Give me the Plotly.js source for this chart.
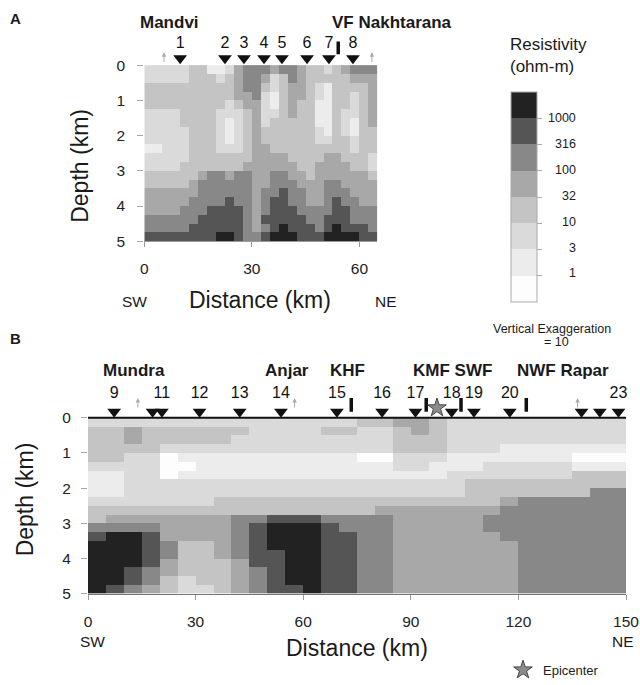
<!DOCTYPE html>
<html><head><meta charset="utf-8">
<script src="https://cdn.plot.ly/plotly-3.0.1.min.js"></script>
<style>html,body{margin:0;padding:0;background:#fff}</style>
</head><body><div id="chart" style="width:640px;height:685px"></div>
<script>
// ---------- DATA ----------
// resistivity classes 1..8, boundaries (ohm-m)
const resistivityTicks = ['1','3','10','32','100','316','1000'];
const classGrays = ['#fdfdfd','#ececec','#dadada','#c4c4c4','#a8a8a8','#888888','#555555','#222222'];

// Profile A (Mandvi - Nakhtarana), cells 2.5 km x 0.25 km, rows from surface down
const stationLabelsA = ['1','2','3','4','5','6','7','8'];
const stationKmA = [10, 22.5, 27.8, 33.4, 38.4, 45.4, 51.5, 58.2];
const faultKmA = [54.1];
const arrowKmA = [5.5, 63.5];
const resistivityA = [
 [3,3,3,3,3,4,4,2,2,3,5,6,6,6,5,6,6,5,4,4,3,4,5,6,6,6],
 [3,3,3,3,3,4,4,4,3,4,5,6,6,5,3,4,6,5,4,4,4,4,4,5,5,5],
 [4,4,4,4,4,4,4,4,4,4,5,6,6,4,3,4,5,5,4,3,2,4,4,4,4,5],
 [4,4,4,4,4,4,4,4,4,4,5,5,6,3,2,4,5,5,4,3,2,4,4,3,4,5],
 [4,4,4,4,4,4,4,4,4,3,4,5,5,3,2,4,5,4,4,2,2,4,4,3,4,5],
 [3,3,3,3,4,4,4,4,3,3,3,4,5,3,3,4,5,4,4,2,2,4,3,3,4,5],
 [3,3,3,3,4,4,4,4,3,2,3,4,5,3,4,4,4,4,4,2,2,4,3,2,4,5],
 [3,3,3,3,3,4,4,4,3,2,3,4,5,4,4,4,4,4,4,3,2,4,3,2,4,4],
 [3,3,3,3,3,4,4,4,3,2,3,4,5,4,4,4,4,4,4,3,3,4,4,3,4,4],
 [2,2,3,3,3,4,4,4,3,3,3,4,5,5,4,4,4,4,4,4,4,4,4,3,4,4],
 [3,3,3,3,3,4,4,4,4,4,4,4,5,5,5,5,4,4,4,4,5,5,4,4,4,3],
 [3,3,3,3,4,4,4,4,4,4,4,5,5,5,5,5,5,4,4,5,5,5,5,4,4,3],
 [4,4,4,4,4,4,5,6,6,5,6,6,5,5,6,6,5,5,4,5,5,5,5,5,5,4],
 [4,4,4,4,4,5,6,6,6,6,6,6,5,5,6,6,6,5,5,5,6,6,5,5,5,5],
 [5,5,5,5,5,5,6,6,6,6,6,6,5,6,6,7,6,6,5,5,6,6,6,5,5,5],
 [5,5,5,5,5,6,6,6,6,7,6,6,5,6,7,7,6,6,5,5,6,7,6,6,5,5],
 [5,5,5,5,6,6,6,7,7,7,7,6,5,6,7,7,7,6,6,6,6,7,7,6,6,6],
 [6,6,6,6,6,6,7,7,7,7,7,6,5,7,7,7,7,7,6,6,7,7,7,6,6,6],
 [6,6,6,6,6,7,7,7,7,7,7,6,5,6,7,8,7,7,7,6,7,8,7,7,7,6],
 [7,7,7,7,7,7,7,7,8,8,7,6,6,7,8,8,8,7,7,7,8,8,8,8,7,7]
];

// Profile B (Mundra - Rapar), cells 5 km x 0.25 km
const stationLabelsB = ['9','','11','12','13','14','15','16','17','18','19','20','','','23'];
const stationKmB = [7.3, 18.0, 20.6, 31.1, 42.3, 53.8, 69.4, 82.0, 91.3, 101.4, 107.6, 117.6, 137.6, 142.7, 147.9];
const faultNamesB = ['KHF','KMF','SWF','NWF'];
const faultKmB = [73.4, 94.3, 104.0, 122.2];
const arrowKmB = [13.9, 57.6, 136.5];
const epicenterKm = [97.3];
const resistivityB = [
 [3,3,3,3,3,3,3,3,3,3,3,3,3,3,3,4,4,5,5,4,3,3,3,3,3,3,3,3,3,3],
 [4,4,5,4,4,4,4,4,4,3,3,3,3,4,4,3,3,4,5,4,3,3,3,3,3,3,3,3,3,3],
 [4,4,5,4,4,4,4,4,3,3,3,3,3,3,3,3,3,4,4,4,3,3,3,3,3,3,3,3,3,3],
 [4,4,4,4,3,3,3,3,3,3,3,3,3,3,3,3,3,4,4,4,3,3,3,2,2,2,2,2,2,2],
 [4,4,3,3,1,2,2,2,2,2,2,2,2,2,2,1,1,3,3,3,2,2,2,2,2,2,2,1,1,1],
 [3,3,3,3,1,1,2,2,2,2,2,2,2,2,2,2,2,3,3,2,2,2,3,3,3,3,3,2,2,2],
 [2,2,3,3,1,2,2,2,2,2,2,2,2,2,2,2,2,2,2,2,3,3,3,3,3,3,3,4,4,4],
 [2,2,3,3,3,3,3,3,3,3,3,3,3,3,3,3,3,3,3,3,3,4,4,4,4,4,4,4,4,4],
 [2,2,3,3,3,3,3,3,3,3,3,3,3,3,3,3,3,3,3,3,3,4,4,4,4,4,4,4,6,6],
 [3,3,3,3,3,3,3,4,4,4,4,4,4,4,4,4,4,4,4,4,4,4,4,5,6,6,6,6,6,6],
 [4,4,4,4,4,4,4,4,4,4,4,4,4,4,4,4,5,5,5,5,5,5,5,6,6,6,6,6,6,6],
 [4,5,5,5,5,5,5,5,6,6,7,7,7,6,6,6,6,5,5,5,5,5,6,6,6,6,6,6,6,6],
 [6,6,6,6,5,5,5,5,6,7,8,8,8,7,6,6,6,5,5,5,5,5,6,6,6,6,6,6,6,6],
 [7,8,8,7,5,5,5,5,6,7,8,8,8,7,7,6,6,5,5,5,5,5,5,6,6,6,6,6,6,6],
 [8,8,8,7,6,4,4,5,6,7,8,8,8,7,7,6,6,5,5,5,5,5,5,5,6,6,6,6,6,6],
 [8,8,8,7,6,4,4,5,6,7,7,8,8,7,7,6,6,5,5,5,5,5,5,5,6,6,6,6,6,6],
 [8,8,8,7,5,4,4,4,5,7,7,8,8,7,7,6,6,5,5,5,5,5,5,5,6,6,6,6,6,6],
 [8,8,7,6,5,4,4,4,5,6,7,8,8,7,7,6,6,5,5,5,5,5,5,5,6,6,6,6,6,6],
 [8,8,7,6,4,3,4,4,5,6,7,8,8,7,7,6,6,5,5,5,5,5,5,5,6,6,6,6,6,6],
 [8,7,6,5,4,3,3,4,5,6,7,7,8,7,7,6,6,5,5,5,5,5,5,5,6,6,6,6,6,6]
];

// ---------- LAYOUT HELPERS ----------
const W = 640, H = 685;
const px = x => x / W;
const py = y => 1 - y / H;
const FONT = 'Arial, "Liberation Sans", sans-serif';

// panel geometry (pixels)
const A = {left:144.3, right:377.3, top0:66, bottom:244.5, topPx:8, km:65};
const B = {left:88, right:626, top0:423.3, bottom:601.5, topPx:355, km:150};
function depthPerPx(p){ return 5 / (p.bottom - p.top0); }
A.ytop = -(A.top0 - A.topPx) * depthPerPx(A);
B.ytop = -(B.top0 - B.topPx) * depthPerPx(B);
const dA = p => -p * depthPerPx(A);   // pixels above surface -> depth
const dB = p => -p * depthPerPx(B);

// discrete colorscale
const nCls = classGrays.length;
const cscale = [];
classGrays.forEach((c, i) => { cscale.push([i / nCls, c]); cscale.push([(i + 1) / nCls, c]); });

const cb = {left:510.7, top:93.3, len:210, thick:26};

const traces = [];
traces.push({
  type:'heatmap', z:resistivityA, x0:1.25, dx:2.5, y0:0.125, dy:0.25,
  xaxis:'x', yaxis:'y', zmin:0.5, zmax:8.5, colorscale:cscale, zsmooth:false, hoverinfo:'skip',
  colorbar:{x:px(cb.left), xanchor:'left', xpad:0, y:py(cb.top), yanchor:'top', ypad:0,
    lenmode:'pixels', len:cb.len, thickness:cb.thick, outlinecolor:'#aaa', outlinewidth:1,
    tickvals:[1.5,2.5,3.5,4.5,5.5,6.5,7.5], ticktext:resistivityTicks, showticklabels:false,
    ticks:'outside', ticklen:5, tickcolor:'#aaa'}
});
traces.push({
  type:'heatmap', z:resistivityB, x0:2.5, dx:5, y0:0.125, dy:0.25,
  xaxis:'x2', yaxis:'y2', zmin:0.5, zmax:8.5, colorscale:cscale, zsmooth:false, hoverinfo:'skip', showscale:false
});

function faultLines(kms, y1, y2){
  const x = [], y = [];
  kms.forEach(k => { x.push(k, k, null); y.push(y1, y2, null); });
  return {x, y};
}
// Profile A marks
traces.push({type:'scatter', mode:'markers', x:stationKmA, y:stationKmA.map(() => dA(7)), xaxis:'x', yaxis:'y',
  marker:{symbol:'triangle-down', size:12, color:'#111'}, cliponaxis:false, showlegend:false, hoverinfo:'skip'});
traces.push({type:'scatter', mode:'text', x:stationKmA, y:stationKmA.map(() => dA(21)), text:stationLabelsA, xaxis:'x', yaxis:'y',
  textfont:{family:FONT, size:16, color:'#111'}, cliponaxis:false, showlegend:false, hoverinfo:'skip'});
const fA = faultLines(faultKmA, dA(24), dA(11));
traces.push({type:'scatter', mode:'lines', x:fA.x, y:fA.y, xaxis:'x', yaxis:'y', line:{color:'#111', width:3.5},
  cliponaxis:false, showlegend:false, hoverinfo:'skip'});
// Profile B marks
traces.push({type:'scatter', mode:'markers', x:stationKmB, y:stationKmB.map(() => dB(6)), xaxis:'x2', yaxis:'y2',
  marker:{symbol:'triangle-down', size:12, color:'#111'}, cliponaxis:false, showlegend:false, hoverinfo:'skip'});
traces.push({type:'scatter', mode:'text', x:stationKmB, y:stationKmB.map(() => dB(24)), text:stationLabelsB, xaxis:'x2', yaxis:'y2',
  textfont:{family:FONT, size:16, color:'#111'}, cliponaxis:false, showlegend:false, hoverinfo:'skip'});
const fB = faultLines(faultKmB, dB(20), dB(6));
traces.push({type:'scatter', mode:'lines', x:fB.x, y:fB.y, xaxis:'x2', yaxis:'y2', line:{color:'#111', width:3.5},
  cliponaxis:false, showlegend:false, hoverinfo:'skip', text:faultNamesB});
traces.push({type:'scatter', mode:'markers', name:'Epicenter', x:epicenterKm, y:epicenterKm.map(() => dB(10)), xaxis:'x2', yaxis:'y2',
  marker:{symbol:'star', size:14, color:'#8c8c8c', line:{color:'#444', width:1}}, cliponaxis:false, showlegend:true, hoverinfo:'skip'});

// ---------- ANNOTATIONS ----------
const ann = [];
function txt(text, x, y, size, opts){
  ann.push(Object.assign({text, xref:'paper', yref:'paper', x:px(x), y:py(y), xanchor:'center', yanchor:'middle',
    showarrow:false, font:{family:FONT, size, color:'#1a1a1a'}}, opts || {}));
}
txt('<b>A</b>', 15, 19, 15);
txt('<b>B</b>', 15, 343, 15);
txt('<b>Mandvi</b>', 169, 23, 17);
txt('<b>VF Nakhtarana</b>', 392, 23, 17);
txt('<b>Mundra</b>', 134, 375, 17);
txt('<b>Anjar</b>', 287, 375, 17);
txt('<b>KHF</b>', 347, 375, 17);
txt('<b>KMF SWF</b>', 452, 375, 17);
txt('<b>NWF Rapar</b>', 563, 375, 17);
txt('Depth (km)', 80, 168, 23, {textangle:-90});
txt('Distance (km)', 260, 304, 23);
txt('SW', 134, 306, 15.5);
txt('NE', 386, 306, 15.5);
txt('Depth (km)', 25, 506, 23, {textangle:-90});
txt('Distance (km)', 357, 657, 23);
txt('SW', 92, 650, 15.5);
txt('NE', 623, 650, 15.5);
txt('Resistivity', 508, 45, 17, {xanchor:'left'});
txt('(ohm-m)', 508, 67, 17, {xanchor:'left'});
txt('Vertical Exaggeration', 552, 333, 12.5);
txt('= 10', 556, 347, 12.5);
// colorbar class labels, right aligned, at class boundaries
resistivityTicks.forEach((t, i) => {
  const yb = cb.top + cb.len - (i + 1) * cb.len / nCls;
  txt(t, 578, yb, 12.5, {xanchor:'right'});
});
// small gray arrows
function arrows(kms, xref, yref, yHead){
  kms.forEach(k => ann.push({x:k, y:yHead, xref, yref, ax:0, ay:11, text:'', showarrow:true,
    arrowhead:2, arrowsize:0.9, arrowwidth:1, arrowcolor:'#aaa'}));
}
arrows(arrowKmA, 'x', 'y', dA(13));
arrows(arrowKmB, 'x2', 'y2', dB(20));

const tickFont = {family:FONT, size:15.5, color:'#222'};
const layout = {
  width:W, height:H, margin:{l:0, r:0, t:0, b:0}, paper_bgcolor:'#fff', plot_bgcolor:'rgba(0,0,0,0)',
  showlegend:true,
  legend:{x:px(503), y:py(679), xanchor:'left', yanchor:'middle', bgcolor:'rgba(0,0,0,0)',
    font:{family:FONT, size:13, color:'#222'}},
  xaxis:{domain:[px(A.left), px(A.right)], range:[0, A.km], anchor:'y', tickvals:[0,30,60],
    showgrid:false, zeroline:false, showline:true, linecolor:'#999', linewidth:1,
    ticks:'outside', ticklen:5, tickcolor:'#999', tickfont:tickFont, ticklabelstandoff:8},
  yaxis:{domain:[py(A.bottom), py(A.topPx)], range:[5, A.ytop], anchor:'x', tickvals:[0,1,2,3,4,5],
    showgrid:false, zeroline:false, showline:false,
    ticks:'outside', ticklen:6, tickcolor:'#aaa', tickfont:tickFont, ticklabelstandoff:9},
  xaxis2:{domain:[px(B.left), px(B.right)], range:[0, B.km], anchor:'y2', tickvals:[0,30,60,90,120,150],
    showgrid:false, zeroline:false, showline:true, linecolor:'#777', linewidth:1.5,
    ticks:'outside', ticklen:5, tickcolor:'#999', tickfont:tickFont, ticklabelstandoff:8},
  yaxis2:{domain:[py(B.bottom), py(B.topPx)], range:[5, B.ytop], anchor:'x2', tickvals:[0,1,2,3,4,5],
    showgrid:false, zeroline:false, showline:false,
    ticks:'outside', ticklen:6, tickcolor:'#aaa', tickfont:tickFont, ticklabelstandoff:7},
  shapes:[{type:'line', xref:'x2', yref:'y2', x0:0, x1:B.km, y0:0, y1:0, line:{color:'#111', width:2}}],
  annotations:ann
};
Plotly.newPlot('chart', traces, layout, {displayModeBar:false, staticPlot:true});
</script></body></html>
